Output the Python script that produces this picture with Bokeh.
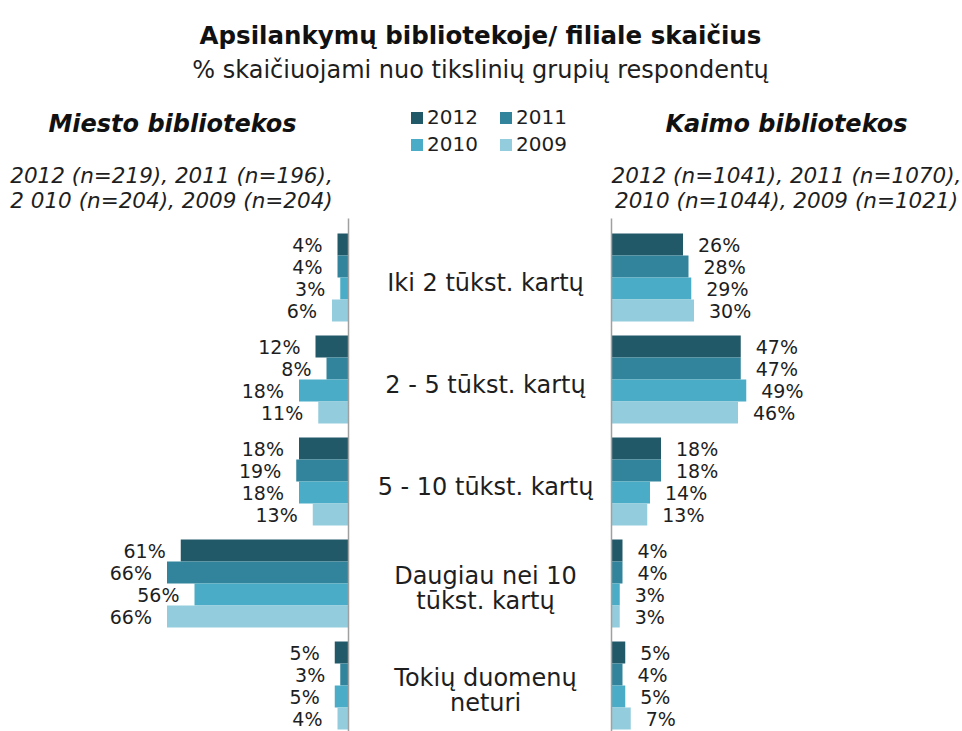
from bokeh.plotting import figure
from bokeh.models import Range1d, Legend, LegendItem
from bokeh.core.properties import value
from bokeh.embed import file_html
from bokeh.resources import INLINE

# ---------------- data ----------------
title = "Apsilankymų bibliotekoje/ filiale skaičius"
subtitle = "% skaičiuojami nuo tikslinių grupių respondentų"
categories = ["Iki 2 tūkst. kartų", "2 - 5 tūkst. kartų", "5 - 10 tūkst. kartų",
              "Daugiau nei 10\ntūkst. kartų", "Tokių duomenų\nneturi"]
years = ["2012", "2011", "2010", "2009"]
colors = ["#225968", "#31849b", "#4aacc6", "#93cddd"]

city_2012 = [4, 12, 18, 61, 5]
city_2011 = [4, 8, 19, 66, 3]
city_2010 = [3, 18, 18, 56, 5]
city_2009 = [6, 11, 13, 66, 4]
rural_2012 = [26, 47, 18, 4, 5]
rural_2011 = [28, 47, 18, 4, 4]
rural_2010 = [29, 49, 14, 3, 5]
rural_2009 = [30, 46, 13, 3, 7]

city_header = "Miesto bibliotekos"
city_n = ["2012 (n=219), 2011 (n=196),", "2 010 (n=204), 2009 (n=204)"]
rural_header = "Kaimo bibliotekos"
rural_n = ["2012 (n=1041), 2011 (n=1070),", "2010 (n=1044), 2009 (n=1021)"]

city = [city_2012, city_2011, city_2010, city_2009]
rural = [rural_2012, rural_2011, rural_2010, rural_2009]

# ---------------- layout constants ----------------
W, H = 962, 731
PX = 2.75            # pixels per percent
LEFT0 = 348          # pixel x of the city axis
RIGHT0 = 611         # pixel x of the rural axis
PITCH = 102          # pixels between group centres
GROUP0 = 277         # pixel y of first group centre
BAR = 22 / PITCH     # bar thickness in group units
FONT_NAME = "DejaVu Sans"
FONT = value(FONT_NAME)
TXT = "#1e1e1e"

p = figure(width=W, height=H, x_range=Range1d(0, W), y_range=Range1d(H, 0),
           output_backend="svg", toolbar_location=None, min_border=0,
           x_axis_location=None, y_axis_location=None)
p.grid.visible = False
p.outline_line_color = None
p.background_fill_color = "white"

p.extra_x_ranges = {
    "city": Range1d(LEFT0 / PX, LEFT0 / PX - W / PX),
    "rural": Range1d(-RIGHT0 / PX, (W - RIGHT0) / PX),
}
p.extra_y_ranges = {"grp": Range1d((H - GROUP0) / PITCH, -GROUP0 / PITCH)}

idx = list(range(len(categories)))
city_renderers = []
for j, (yr, col) in enumerate(zip(years, colors)):
    ys = [i + (j - 1.5) * BAR for i in idx]
    r = p.hbar(y=ys, height=BAR, left=0, right=city[j], x_range_name="city",
               y_range_name="grp", fill_color=col, line_color=None)
    city_renderers.append(r)
    p.hbar(y=ys, height=BAR, left=0, right=rural[j], x_range_name="rural",
           y_range_name="grp", fill_color=col, line_color=None)
    p.text(x=city[j], y=ys, text=[f"{v}%" for v in city[j]], x_range_name="city",
           y_range_name="grp", x_offset=-15, text_align="right", text_baseline="middle",
           text_font=FONT, text_font_size="19px", text_color=TXT)
    p.text(x=rural[j], y=ys, text=[f"{v}%" for v in rural[j]], x_range_name="rural",
           y_range_name="grp", x_offset=15, text_align="left", text_baseline="middle",
           text_font=FONT, text_font_size="19px", text_color=TXT)

# axis lines
ybot = p.extra_y_ranges["grp"].start
ytop = -0.5 - 8 / PITCH
for rn in ("city", "rural"):
    p.segment(x0=[0], x1=[0], y0=[ytop], y1=[ybot], x_range_name=rn, y_range_name="grp",
              line_color="#a0a0a0", line_width=1.5)

# category labels
p.text(x=[485] * len(categories), y=idx, text=categories, y_range_name="grp",
       y_offset=5, text_align="center", text_baseline="middle", text_font=FONT,
       text_font_size="24px", text_color=TXT, text_line_height=0.9)

# headers
p.text(x=[480], y=[35], text=[title], text_align="center", text_baseline="alphabetic",
       text_font=FONT, text_font_size="24.5px", text_font_style="bold", text_color="#111111")
p.text(x=[480], y=[69], text=[subtitle], text_align="center", text_baseline="alphabetic",
       text_font=FONT, text_font_size="24px", text_color=TXT)
p.text(x=[172, 786], y=[123, 123], text=[city_header, rural_header], text_align="center",
       text_baseline="alphabetic", text_font=FONT, text_font_size="24px",
       text_font_style="bold italic", text_color="#111111")
p.text(x=[171, 171], y=[175, 200], text=city_n, text_align="center",
       text_baseline="alphabetic", text_font=FONT, text_font_size="21.5px",
       text_font_style="italic", text_color=TXT)
p.text(x=[786, 786], y=[175, 200], text=rural_n, text_align="center",
       text_baseline="alphabetic", text_font=FONT, text_font_size="21.5px",
       text_font_style="italic", text_color=TXT)

legend = Legend(items=[LegendItem(label=yr, renderers=[r]) for yr, r in zip(years, city_renderers)],
                location=(409, 575), orientation="horizontal", ncols=2,
                glyph_width=15, glyph_height=15, label_standoff=3, label_width=68,
                spacing=3, padding=0, margin=0, border_line_color=None,
                background_fill_alpha=0, label_text_font=FONT_NAME,
                label_text_font_size="20px", label_text_color=TXT)
p.add_layout(legend)

open("out.html", "w").write(file_html(p, INLINE))
